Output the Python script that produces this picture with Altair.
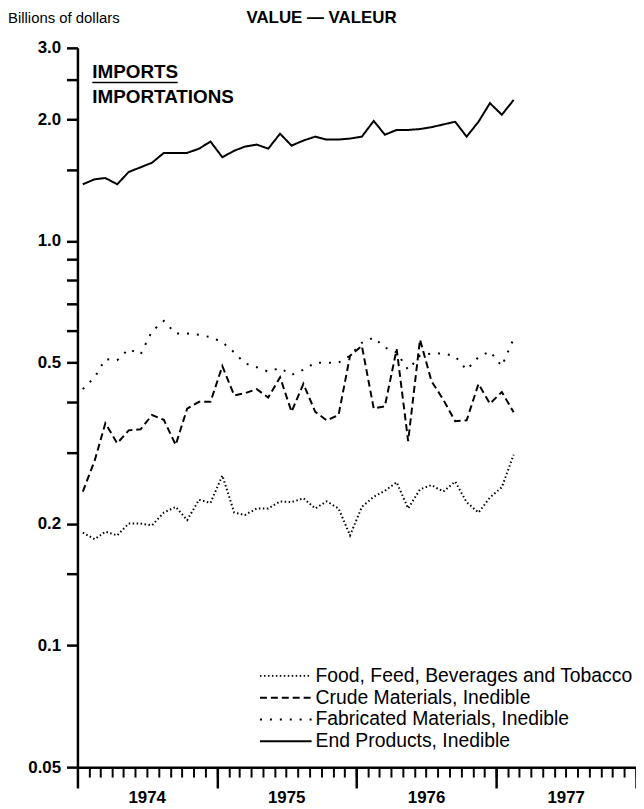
import altair as alt
import pandas as pd

# ---- data ----
months = [f"{1974 + i // 12}-{i % 12 + 1:02d}-15" for i in range(38)]

food = [0.19, 0.183, 0.191, 0.187, 0.200, 0.200, 0.198, 0.213, 0.220, 0.204,
        0.229, 0.225, 0.263, 0.213, 0.210, 0.218, 0.218, 0.227, 0.226, 0.231,
        0.218, 0.227, 0.218, 0.187, 0.220, 0.233, 0.241, 0.253, 0.218, 0.243,
        0.249, 0.240, 0.254, 0.226, 0.213, 0.232, 0.246, 0.296]

crude = [0.240, 0.286, 0.354, 0.316, 0.340, 0.342, 0.371, 0.361, 0.313, 0.385,
         0.400, 0.400, 0.490, 0.415, 0.420, 0.430, 0.410, 0.460, 0.378, 0.443,
         0.378, 0.360, 0.371, 0.520, 0.550, 0.385, 0.390, 0.540, 0.320, 0.570,
         0.450, 0.405, 0.358, 0.360, 0.443, 0.396, 0.423, 0.377]

fabricated = [0.430, 0.460, 0.510, 0.507, 0.540, 0.524, 0.598, 0.634, 0.590, 0.590,
              0.586, 0.578, 0.562, 0.530, 0.498, 0.487, 0.475, 0.485, 0.466, 0.480,
              0.500, 0.500, 0.500, 0.520, 0.560, 0.577, 0.545, 0.530, 0.480, 0.520,
              0.527, 0.527, 0.518, 0.480, 0.516, 0.533, 0.490, 0.573]

end_products = [1.38, 1.42, 1.43, 1.38, 1.48, 1.52, 1.56, 1.65, 1.65, 1.65,
                1.69, 1.76, 1.61, 1.67, 1.71, 1.73, 1.69, 1.84, 1.72, 1.77,
                1.81, 1.78, 1.78, 1.79, 1.81, 1.98, 1.83, 1.88, 1.88, 1.89,
                1.91, 1.94, 1.97, 1.81, 1.97, 2.19, 2.05, 2.23]

series_names = ["Food, Feed, Beverages and Tobacco",
                "Crude Materials, Inedible",
                "Fabricated Materials, Inedible",
                "End Products, Inedible"]
series_values = [food, crude, fabricated, end_products]
dashes = [[1.5, 2.5], [7, 4], [2, 8], [1, 0]]

y_major = [0.05, 0.1, 0.2, 0.5, 1.0, 2.0, 3.0]
y_minor = [0.15, 0.3, 0.4, 0.6, 0.7, 0.8, 0.9, 1.5, 2.5]
years = [1974, 1975, 1976, 1977, 1978]

rows = []
for name, vals in zip(series_names, series_values):
    for m, v in zip(months, vals):
        rows.append({"date": m, "value": v, "series": name})
df = pd.DataFrame(rows)

FONT = "Liberation Sans"

x_scale = alt.Scale(type="utc",
                    domain=[alt.DateTime(year=years[0], month=1, date=1, utc=True),
                            alt.DateTime(year=years[-1], month=1, date=1, utc=True)])
y_scale = alt.Scale(type="log", domain=[0.05, 3.0], nice=False, zero=False)

month_ticks = [alt.DateTime(year=y, month=m, date=1, utc=True)
               for y in years[:-1] for m in range(1, 13)] + \
              [alt.DateTime(year=years[-1], month=1, date=1, utc=True)]
year_ticks = [alt.DateTime(year=y, month=1, date=1, utc=True) for y in years]

month_axis = alt.Axis(values=month_ticks, tickSize=10, tickWidth=2, domainWidth=2.5,
                      labelExpr="utcmonth(datum.value) == 6 ? utcFormat(datum.value, '%Y') : ''",
                      labelPadding=13, labelFontSize=17, labelFontWeight="bold",
                      labelFont=FONT, labelColor="black", labelBaseline="top",
                      labelOverlap=False, grid=False, title=None, orient="bottom",
                      domainColor="black", tickColor="black")
year_axis = alt.Axis(values=year_ticks, tickSize=21, tickWidth=2.5, labels=False,
                     domain=False, grid=False, title=None, orient="bottom",
                     tickColor="black")

y_axis = alt.Axis(values=sorted(y_major + y_minor), tickSize=11, tickWidth=2.5,
                  domainWidth=2.5, domainColor="black", tickColor="black",
                  labelExpr="indexof([0.05,0.1,0.2,0.5,1,2,3], datum.value) >= 0 ? "
                            "(datum.value == 0.05 ? '0.05' : format(datum.value, '.1f')) : ''",
                  labelPadding=6, labelFontSize=17, labelFontWeight="bold",
                  labelFont=FONT, labelColor="black", labelOverlap=False,
                  grid=False, title=None, orient="left")

lines = alt.Chart(df).mark_line(color="black", strokeWidth=2).encode(
    x=alt.X("date:T", scale=x_scale, axis=month_axis),
    y=alt.Y("value:Q", scale=y_scale, axis=y_axis),
    strokeDash=alt.StrokeDash(
        "series:N",
        scale=alt.Scale(domain=series_names, range=dashes),
        legend=alt.Legend(orient="none", legendX=183, legendY=622, title=None,
                          symbolType="stroke", symbolSize=2704, symbolStrokeWidth=2,
                          symbolStrokeColor="black", labelFont=FONT, labelFontSize=19.5,
                          labelColor="black", labelLimit=0, labelOffset=3,
                          clipHeight=22, rowPadding=0, padding=0)),
    detail="series:N",
)

year_layer = alt.Chart(pd.DataFrame({"date": [f"{y}-01-01" for y in years]})).mark_point(
    opacity=0).encode(x=alt.X("date:T", scale=x_scale, axis=year_axis))

t_units = alt.Chart(pd.DataFrame({"t": ["Billions of dollars"]})).mark_text(
    align="left", baseline="middle", font=FONT, fontSize=15, color="black").encode(
    x=alt.value(-70), y=alt.value(-30), text="t:N")
t_title = alt.Chart(pd.DataFrame({"t": ["VALUE — VALEUR"]})).mark_text(
    align="center", baseline="middle", font=FONT, fontSize=17, fontWeight="bold",
    color="black").encode(x=alt.value(246), y=alt.value(-30), text="t:N")
t_imp = alt.Chart(pd.DataFrame({"t": ["IMPORTS"]})).mark_text(
    align="left", baseline="middle", font=FONT, fontSize=19, fontWeight="bold",
    color="black").encode(x=alt.value(15), y=alt.value(24), text="t:N")
t_impf = alt.Chart(pd.DataFrame({"t": ["IMPORTATIONS"]})).mark_text(
    align="left", baseline="middle", font=FONT, fontSize=19, fontWeight="bold",
    color="black").encode(x=alt.value(15), y=alt.value(50), text="t:N")
underline = alt.Chart(pd.DataFrame({"t": ["IMPORTS"]})).mark_rule(
    color="black", strokeWidth=1.5).encode(x=alt.value(15), x2=alt.value(101),
                                           y=alt.value(35))

chart = alt.layer(lines, year_layer, t_units, t_title, t_imp, t_impf, underline).resolve_axis(
    x="independent"
).properties(
    width=563, height=725, autosize="none",
    padding={"left": 70, "top": 37, "right": 0, "bottom": 38},
).configure_view(stroke=None)

chart.save("out.html", embed_options={"renderer": "svg", "actions": False})
